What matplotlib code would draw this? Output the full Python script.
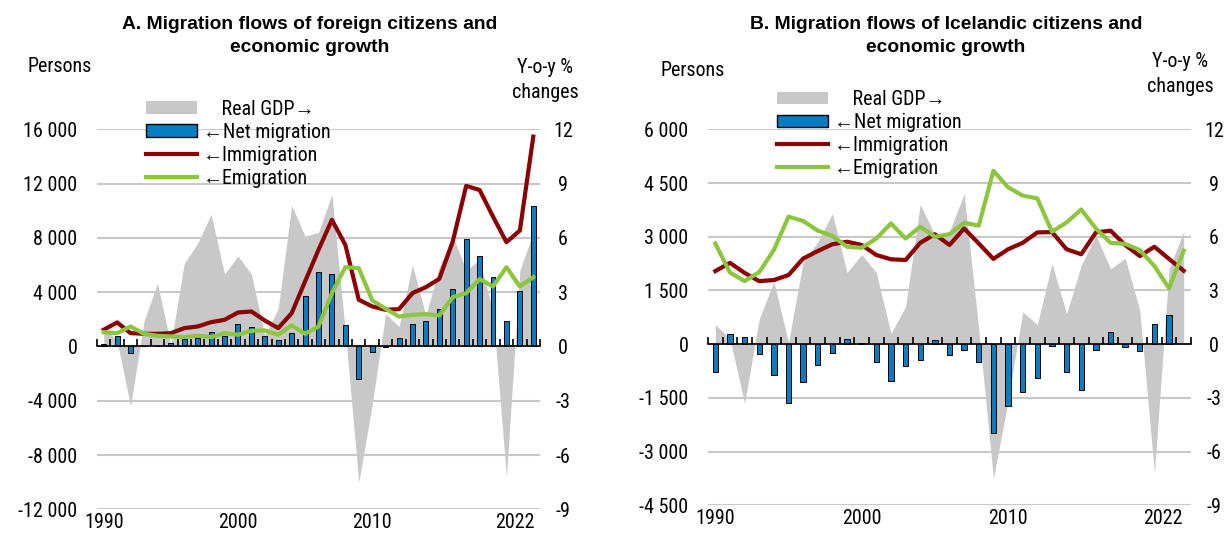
import numpy as np
import matplotlib
matplotlib.use('Agg')
import matplotlib.pyplot as plt
from matplotlib import font_manager
from matplotlib.patches import Patch
from matplotlib.lines import Line2D
from matplotlib.ticker import FuncFormatter

# pick a narrow sans font if one is installed, otherwise a regular one at a smaller size
_names = {f.name for f in font_manager.fontManager.ttflist}
_narrow = None
for cand in ['Liberation Sans Narrow', 'Arial Narrow', 'Roboto Condensed',
             'Open Sans Condensed', 'Noto Sans Condensed', 'DejaVu Sans Condensed']:
    if cand in _names:
        _narrow = cand
        break
if _narrow:
    BODY_FAMILY = [_narrow, 'Liberation Sans', 'DejaVu Sans']
    FS = 14.4
else:
    BODY_FAMILY = ['Liberation Sans', 'DejaVu Sans']
    FS = 13.2
TITLE_FAMILY = ['Liberation Sans', 'DejaVu Sans']
TFS = 13.9

plt.rcParams['font.family'] = BODY_FAMILY
plt.rcParams['axes.unicode_minus'] = False

# ---------------- data ----------------
years = list(range(1990, 2023))
year_labels = ['1990', '2000', '2010', '2022']
year_label_pos = [0, 10, 20, 30.6]

# Real GDP growth, y-o-y % (right axis)
gdp_growth = [1.1, 0.3, -3.3, 1.4, 3.5, 0.1, 4.6, 5.7, 7.3, 4.0,
              5.0, 4.0, 0.6, 2.1, 7.8, 6.1, 6.3, 8.4, 0.8, -7.5,
              -3.2, 1.8, 1.1, 4.5, 1.7, 4.4, 6.1, 4.2, 4.8, 1.9,
              -7.2, 4.2, 6.3]

# Panel A: foreign citizens (persons)
imm_foreign = [1230, 1770, 980, 930, 930, 980, 1350, 1470, 1790, 1960,
               2500, 2580, 1910, 1350, 2450, 4790, 7120, 9330, 7480, 3440,
               2950, 2700, 2750, 3930, 4370, 4980, 7730, 11830, 11530, 9570,
               7680, 8540, 15460]
em_foreign = [1055, 980, 1470, 930, 785, 740, 690, 785, 690, 980,
              860, 1150, 1180, 860, 1550, 930, 1470, 3930, 5840, 5770,
              3400, 2780, 2200, 2330, 2380, 2280, 3630, 3930, 4960, 4420,
              5840, 4420, 5100]
net_foreign = [175, 740, -490, 0, 50, 245, 540, 610, 1100, 785,
               1640, 1420, 740, 490, 980, 3730, 5520, 5330, 1600, -2380,
               -440, -70, 610, 1640, 1910, 2750, 4220, 7900, 6630, 5150,
               1890, 4120, 10360]

# Panel B: Icelandic citizens (persons)
imm_iceland = [2040, 2270, 1990, 1760, 1790, 1930, 2390, 2600, 2790, 2860,
               2770, 2490, 2370, 2350, 2830, 3070, 2770, 3230, 2810, 2380,
               2650, 2830, 3120, 3130, 2650, 2510, 3120, 3170, 2770, 2460,
               2720, 2380, 2050]
em_iceland = [2810, 2000, 1760, 2010, 2630, 3560, 3440, 3170, 3020, 2720,
              2690, 2950, 3370, 2950, 3280, 3000, 3070, 3390, 3310, 4840,
              4380, 4150, 4070, 3140, 3400, 3760, 3230, 2830, 2800, 2630,
              2180, 1560, 2610]
net_iceland = [-770, 280, 190, -280, -870, -1640, -1050, -590, -240, 140,
               40, -490, -1020, -615, -450, 110, -300, -170, -490, -2480,
               -1720, -1330, -940, -55, -770, -1290, -150, 345, -85, -190,
               550, 810, np.nan]

legend_labels = ['    Real GDP\u2192', '\u2190Net migration',
                 '\u2190Immigration', '\u2190Emigration']

# ---------------- style ----------------
GRAY = '#c8c8c8'
BLUE = '#0a7cc1'
RED = '#8b0000'
GREEN = '#8cc63f'
GRID = '#c8c8c8'

fig = plt.figure(figsize=(12.29, 5.34), dpi=100)
W, H = 1229, 534


def thousands(v, pos):
    return f"{v:,.0f}".replace(',', ' ')


def panel(rect, net, imm, em, ylim, ystep, leg_anchor):
    ax = fig.add_axes(rect)
    ax2 = ax.twinx()
    ax.set_zorder(ax2.get_zorder() + 1)
    ax.patch.set_visible(False)
    x = np.arange(len(years))

    # GDP area (right axis)
    ax2.fill_between(x, 0, gdp_growth, color=GRAY, lw=0, zorder=1)
    ax2.set_ylim(-9, 12)
    ax2.set_yticks(np.arange(-9, 13, 3))
    ax2.grid(axis='y', color=GRID, lw=1.5)
    ax2.set_axisbelow(True)
    ax2.tick_params(axis='y', length=0, pad=16.5, labelsize=FS)
    plt.setp(ax2.get_yticklabels(), ha='center')

    # migration (left axis)
    ax.bar(x, net, width=0.37, color=BLUE, edgecolor='black', lw=0.7, zorder=2)
    ax.plot(x, imm, color=RED, lw=3, zorder=3)
    ax.plot(x, em, color=GREEN, lw=3, zorder=4)
    ax.set_ylim(*ylim)
    ax.set_yticks(np.arange(ylim[0], ylim[1] + 1, ystep))
    ax.yaxis.set_major_formatter(FuncFormatter(thousands))
    ax.tick_params(axis='y', length=0, pad=14, labelsize=FS)

    ax.set_xlim(-0.5, len(years) - 0.5)
    ax.set_xticks(np.arange(-0.5, len(years), 1))
    ax.tick_params(axis='x', direction='in', length=5, width=1.2,
                   color='black', labelbottom=False)

    for s in ['top', 'left', 'right']:
        ax.spines[s].set_visible(False)
    ax.spines['bottom'].set_position(('data', 0))
    ax.spines['bottom'].set_color('black')
    ax.spines['bottom'].set_linewidth(1.2)
    for s in ax2.spines.values():
        s.set_visible(False)

    sec = ax.secondary_xaxis(0.0)
    sec.set_xticks(year_label_pos, labels=year_labels)
    sec.tick_params(length=0, pad=3, labelsize=FS)
    for s in sec.spines.values():
        s.set_visible(False)

    handles = [Patch(facecolor=GRAY, edgecolor='none'),
               Patch(facecolor=BLUE, edgecolor='black', lw=1),
               Line2D([], [], color=RED, lw=3),
               Line2D([], [], color=GREEN, lw=3)]
    ax.legend(handles, legend_labels, loc='upper left', bbox_to_anchor=leg_anchor,
              frameon=False, fontsize=FS, handlelength=51 / (FS * 100 / 72),
              handleheight=0.6, handletextpad=0.3, labelspacing=0.2,
              borderpad=0, borderaxespad=0)
    return ax, ax2


# Panel A
panel([97 / W, 1 - 509.3 / H, 443 / W, 380 / H], net_foreign, imm_foreign, em_foreign,
      (-12000, 16000), 4000, (0.111, 1.078))
# Panel B
panel([708 / W, 1 - 505.3 / H, 483 / W, 376 / H], net_iceland, imm_iceland, em_iceland,
      (-4500, 6000), 1500, (0.143, 1.104))

fig.text(310 / W, 1 - 36 / H, 'A. Migration flows of foreign citizens and\neconomic growth',
         ha='center', va='center', fontsize=TFS, fontweight='bold', linespacing=1.45,
         family=TITLE_FAMILY)
fig.text(946 / W, 1 - 36 / H, 'B. Migration flows of Icelandic citizens and\neconomic growth',
         ha='center', va='center', fontsize=TFS, fontweight='bold', linespacing=1.45,
         family=TITLE_FAMILY)

fig.text(60 / W, 1 - 66 / H, 'Persons', ha='center', va='center', fontsize=FS)
fig.text(693 / W, 1 - 71 / H, 'Persons', ha='center', va='center', fontsize=FS)
fig.text(545 / W, 1 - 80 / H, 'Y-o-y %\nchanges', ha='center', va='center',
         fontsize=FS, linespacing=1.4)
fig.text(1180 / W, 1 - 74 / H, 'Y-o-y %\nchanges', ha='center', va='center',
         fontsize=FS, linespacing=1.4)

fig.savefig('out.png', dpi=100)
